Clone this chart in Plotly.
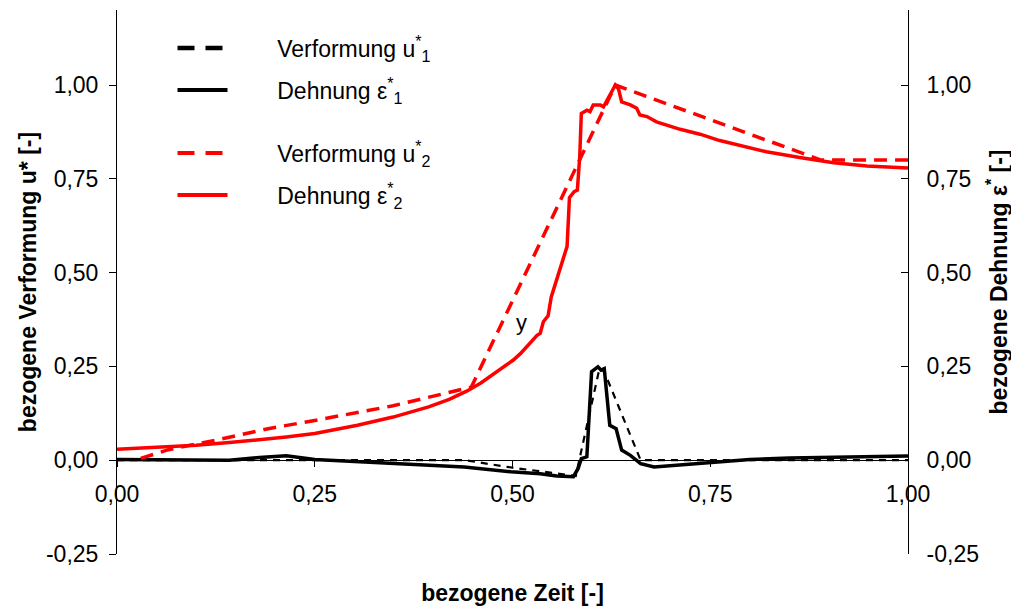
import plotly.graph_objects as go

# ---- data ----
eps2_x = [0.0, 0.05, 0.10, 0.142, 0.19, 0.214, 0.25, 0.304, 0.349, 0.394, 0.42, 0.442, 0.46, 0.476, 0.49,
          0.501, 0.510, 0.518, 0.531, 0.535, 0.539, 0.545, 0.549, 0.553, 0.560, 0.566, 0.569, 0.572, 0.578,
          0.582, 0.585, 0.587, 0.594, 0.598, 0.602, 0.611, 0.615, 0.630, 0.634, 0.638, 0.649, 0.657, 0.661,
          0.670, 0.682, 0.712, 0.737, 0.762, 0.779, 0.821, 0.863, 0.906, 0.948, 1.0]
eps2_y = [0.029, 0.034, 0.040, 0.047, 0.056, 0.062, 0.071, 0.093, 0.115, 0.142, 0.162, 0.184, 0.206, 0.229, 0.250,
          0.267, 0.284, 0.302, 0.333, 0.338, 0.369, 0.385, 0.435, 0.462, 0.507, 0.545, 0.570, 0.700, 0.716,
          0.720, 0.809, 0.924, 0.933, 0.929, 0.947, 0.947, 0.942, 1.000, 0.990, 0.955, 0.947, 0.938, 0.920,
          0.916, 0.902, 0.882, 0.869, 0.852, 0.844, 0.822, 0.807, 0.793, 0.784, 0.779]

u2_x = [0.03, 0.065, 0.124, 0.191, 0.25, 0.349, 0.448, 0.577, 0.63, 0.89, 1.0]
u2_y = [0.005, 0.028, 0.053, 0.084, 0.106, 0.145, 0.195, 0.765, 1.0, 0.80, 0.80]

eps1_x = [0.0, 0.07, 0.142, 0.18, 0.214, 0.25, 0.304, 0.394, 0.439, 0.498, 0.535, 0.556, 0.577, 0.583, 0.587,
          0.594, 0.600, 0.608, 0.612, 0.616, 0.623, 0.631, 0.638, 0.649, 0.662, 0.679, 0.713, 0.763, 0.80,
          0.85, 0.90, 1.0]
eps1_y = [0.002, 0.002, 0.0, 0.007, 0.012, 0.002, -0.004, -0.013, -0.018, -0.031, -0.036, -0.042, -0.044, -0.022,
          0.004, 0.009, 0.236, 0.249, 0.240, 0.244, 0.093, 0.084, 0.027, 0.013, -0.009, -0.018, -0.013, -0.004,
          0.002, 0.006, 0.008, 0.011]

u1_x = [0.0, 0.44, 0.5, 0.58, 0.61, 0.616, 0.662, 1.0]
u1_y = [0.0, 0.0, -0.02, -0.042, 0.245, 0.236, 0.0, 0.0]

x_ticks = [0.0, 0.25, 0.5, 0.75, 1.0]
x_tick_text = ["0,00", "0,25", "0,50", "0,75", "1,00"]
y_ticks = [-0.25, 0.0, 0.25, 0.5, 0.75, 1.0]
y_tick_text = ["-0,25", "0,00", "0,25", "0,50", "0,75", "1,00"]
y_range = [-0.25, 1.2]

series_names = ["Verformung u<sup>*</sup><sub>1</sub>", "Dehnung ε<sup>*</sup><sub>1</sub>",
                "Verformung u<sup>*</sup><sub>2</sub>", "Dehnung ε<sup>*</sup><sub>2</sub>"]

FONT = "Liberation Sans, Arial, sans-serif"
FS = 23
PAD = "\u00a0" * 7

# page body has an 8px margin; figure is sized/offset to compensate
OFF = 8
W, H = 1019 - OFF, 612 - OFF
top_s, bottom_s, left_s, right_s = 10, 554, 117, 908   # plot-area edges on screen

BLACK, RED = "black", "#ff0000"

fig = go.Figure()
# plotted series (legend entries are drawn by legend-only twins with the thicker sample style)
fig.add_trace(go.Scatter(x=u1_x, y=u1_y, mode="lines", name=series_names[0], showlegend=False,
                         line=dict(color=BLACK, width=2.2, dash="7px,6px")))
fig.add_trace(go.Scatter(x=eps1_x, y=eps1_y, mode="lines", name=series_names[1], showlegend=False,
                         line=dict(color=BLACK, width=3.5)))
fig.add_trace(go.Scatter(x=u2_x, y=u2_y, mode="lines", name=series_names[2], showlegend=False,
                         line=dict(color=RED, width=3.5, dash="13px,8px")))
fig.add_trace(go.Scatter(x=eps2_x, y=eps2_y, mode="lines", name=series_names[3], showlegend=False,
                         line=dict(color=RED, width=3.5)))

legend_styles = [
    dict(color=BLACK, width=4.5, dash="17px,11px"),
    dict(color=BLACK, width=4),
    dict(color=RED, width=4, dash="17px,11px"),
    dict(color=RED, width=4),
]
legend_ids = ["legend", "legend2", "legend3", "legend4"]
for name, style, lid in zip(series_names, legend_styles, legend_ids):
    fig.add_trace(go.Scatter(x=[None], y=[None], mode="lines", name=PAD + name, line=style,
                             legend=lid, hoverinfo="skip"))

# invisible trace for right axis
fig.add_trace(go.Scatter(x=[0, 1], y=[0, 0], mode="lines", yaxis="y2", showlegend=False,
                         line=dict(width=0), hoverinfo="skip"))

def py(p):
    return (bottom_s - p) / (bottom_s - top_s)

legend_x = (172.5 - left_s) / (right_s - left_s)
legend_common = dict(x=legend_x, xanchor="left", yanchor="middle", bgcolor="rgba(0,0,0,0)",
                     font=dict(family=FONT, size=FS, color="black"), itemwidth=50)
tickfont = dict(family=FONT, size=FS, color="black")
titlefont = dict(family=FONT, size=FS, color="black")

fig.update_layout(
    width=W, height=H,
    margin=dict(l=left_s - OFF, r=1019 - right_s, t=top_s - OFF, b=612 - bottom_s),
    paper_bgcolor="white", plot_bgcolor="white",
    separators=", ",
    font=dict(family=FONT, size=FS, color="black"),
    legend=dict(y=py(48), **legend_common),
    legend2=dict(y=py(90), **legend_common),
    legend3=dict(y=py(153), **legend_common),
    legend4=dict(y=py(195), **legend_common),
    xaxis=dict(range=[0, 1], tickvals=x_ticks, ticktext=x_tick_text, anchor="free",
               position=(0 - y_range[0]) / (y_range[1] - y_range[0]),
               showline=True, linecolor="black", linewidth=1, ticks="outside", ticklen=6, tickcolor="black",
               showgrid=False, zeroline=False, ticklabelstandoff=7, tickfont=tickfont,
               title=dict(text="<b>bezogene Zeit [-]</b>", standoff=79, font=titlefont)),
    yaxis=dict(range=y_range, tickvals=y_ticks, ticktext=y_tick_text, showline=True, linecolor="black",
               linewidth=1, ticks="outside", ticklen=7, tickcolor="black", showgrid=False, zeroline=False,
               ticklabelstandoff=6, tickfont=tickfont,
               title=dict(text="<b>bezogene Verformung u* [-]</b>", standoff=2, font=titlefont)),
    yaxis2=dict(range=y_range, tickvals=y_ticks, ticktext=y_tick_text, overlaying="y", side="right",
                showline=True, linecolor="black", linewidth=1, ticks="inside", ticklen=7, tickcolor="black",
                showgrid=False, zeroline=False, ticklabelstandoff=13, tickfont=tickfont,
                title=dict(text="<b>bezogene Dehnung ε<sup>*</sup> [-]</b>", standoff=12, font=titlefont)),
    annotations=[dict(x=0.512, y=0.368, xref="x", yref="y", text="y", showarrow=False,
                      font=dict(family=FONT, size=22, color="black"))],
)

fig.write_html("out.html")
